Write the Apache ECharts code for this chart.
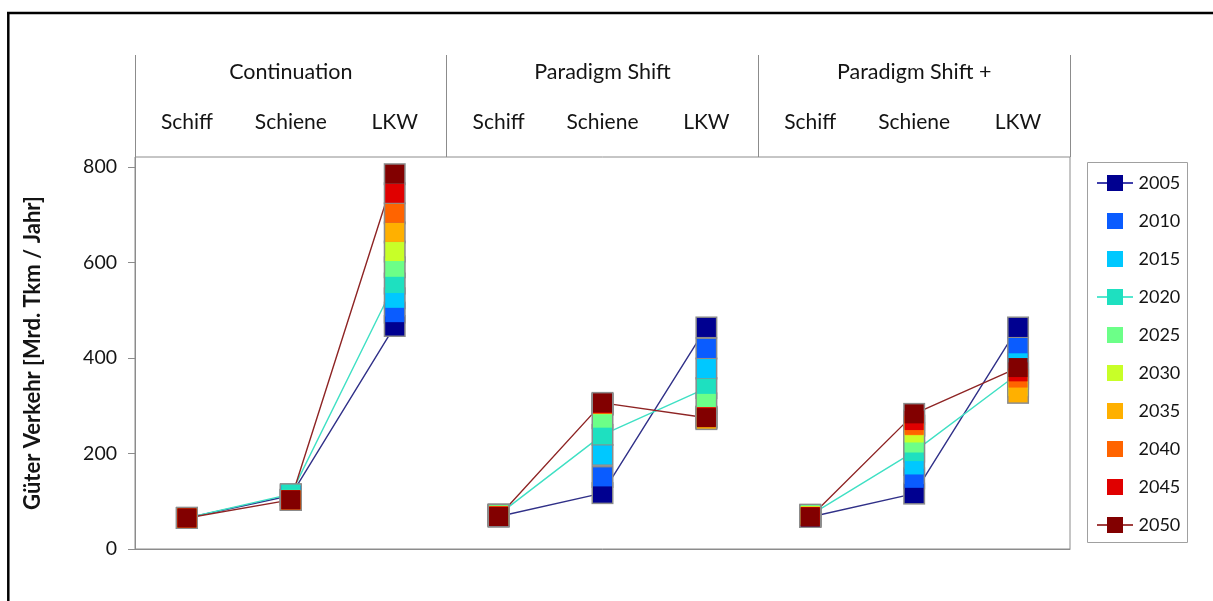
<!DOCTYPE html>
<html>
<head>
<meta charset="utf-8">
<script src="https://cdn.jsdelivr.net/npm/echarts@6/dist/echarts.min.js"></script>
<style>html,body{margin:0;padding:0;background:#fff;}#c{width:1213px;height:601px;}</style>
</head>
<body>
<div id="c"></div>
<script>
// ---- data ----
const groups = ['Continuation', 'Paradigm Shift', 'Paradigm Shift +'];
const categories = ['Schiff', 'Schiene', 'LKW', 'Schiff', 'Schiene', 'LKW', 'Schiff', 'Schiene', 'LKW'];
const years = ['2005', '2010', '2015', '2020', '2025', '2030', '2035', '2040', '2045', '2050'];
const yTicks = [0, 200, 400, 600, 800];
// values per year: [Cont Schiff, Cont Schiene, Cont LKW, PS Schiff, PS Schiene, PS LKW, PS+ Schiff, PS+ Schiene, PS+ LKW]
const v2005 = [65, 112, 467, 68, 117, 464, 67, 116, 464];
const v2010 = [65, 113, 495, 72, 151, 420, 68, 148, 422];
const v2015 = [65, 114, 525, 72, 197, 378, 69, 176, 390];
const v2020 = [65, 115, 556, 72, 239, 337, 71, 204, 367];
const v2025 = [65, 104, 590, 71, 274, 305, 72, 222, 355];
const v2030 = [65, 103, 623, 71, 302, 274, 70, 243, 340];
const v2035 = [65, 103, 663, 70, 303, 272, 69, 258, 327];
const v2040 = [65, 103, 703, 70, 304, 277, 68, 259, 358];
const v2045 = [65, 103, 745, 69, 304, 277, 68, 269, 371];
const v2050 = [65, 103, 785, 68, 306, 275, 67, 283, 380];
const lineYears = ['2005', '2020', '2050'];

// ---- styles ----
const values = [v2005, v2010, v2015, v2020, v2025, v2030, v2035, v2040, v2045, v2050];
const colors = ['#000090', '#0a5cff', '#00c8ff', '#1ee0c0', '#6cff88', '#c8ff28', '#ffb000', '#ff6400', '#e00000', '#820000'];
const lineColors = {'2005': '#303088', '2020': '#3fe0c4', '2050': '#8e2424'};
const FONT = 'Lato';
const GREY = '#8c8c8c';
const TXT = '#141414';

const series = [];
// connecting lines (only 2005, 2020, 2050), one piece per scenario group
years.forEach(function (y, k) {
  if (lineYears.indexOf(y) >= 0) {
    for (let g = 0; g < 3; g++) {
      series.push({
        type: 'line', name: y + ' line', z: 1, silent: true,
        showSymbol: false, symbol: 'none',
        lineStyle: {color: lineColors[y], width: 1.4},
        data: values[k].map(function (v, i) { return Math.floor(i / 3) === g ? v : '-'; })
      });
    }
  }
});
// coloured squares (legend representatives)
years.forEach(function (y, k) {
  series.push({
    type: 'scatter', name: y, z: 3, symbol: 'rect', symbolSize: 19,
    itemStyle: {color: colors[k], borderWidth: 0, opacity: 1},
    emphasis: {disabled: true}, silent: true,
    data: values[k]
  });
});
// grey outlines behind all squares
years.forEach(function (y, k) {
  series.push({
    type: 'scatter', name: y + ' outline', z: 2, symbol: 'rect', symbolSize: 22,
    itemStyle: {color: GREY, borderWidth: 0, opacity: 1},
    emphasis: {disabled: true}, silent: true,
    data: values[k]
  });
});

const sqIcon = 'path://M0,0H16V16H0Z';
const lnIcon = 'path://M0,7.3H10V0H26V7.3H36V8.7H26V16H10V8.7H0Z';

const chart = echarts.init(document.getElementById('c'), null, {renderer: 'canvas'});
chart.setOption({
  animation: false,
  backgroundColor: '#fff',
  textStyle: {fontFamily: FONT},
  grid: {left: 135, right: 143, top: 157, bottom: 52, show: true, borderColor: GREY, borderWidth: 1, outerBoundsMode: 'none', containLabel: false},
  xAxis: [
    {type: 'category', data: categories, position: 'bottom',
     axisLine: {show: true, lineStyle: {color: GREY}}, axisTick: {show: false}, axisLabel: {show: false}, splitLine: {show: false}},
    {type: 'category', data: categories, position: 'top',
     axisLine: {show: false}, axisTick: {show: false},
     axisLabel: {show: true, interval: 0, margin: 24, fontFamily: FONT, fontSize: 21, color: TXT}},
    {type: 'category', data: groups, position: 'top',
     axisLine: {show: false},
     axisTick: {show: true, interval: 0, length: 102, lineStyle: {color: GREY, width: 1}},
     axisLabel: {show: true, interval: 0, margin: 74, fontFamily: FONT, fontSize: 21.5, color: TXT}}
  ],
  yAxis: {
    type: 'value', min: 0, max: 821,
    name: 'Güter Verkehr [Mrd. Tkm / Jahr]', nameLocation: 'middle', nameGap: 91, nameRotate: 90,
    nameTextStyle: {fontFamily: FONT, fontWeight: 'bold', fontSize: 22, color: TXT},
    axisLine: {show: true, lineStyle: {color: GREY}},
    axisTick: {show: true, length: 7, customValues: yTicks, lineStyle: {color: GREY}},
    axisLabel: {show: true, margin: 18, customValues: yTicks, fontFamily: FONT, fontSize: 19.5, color: TXT},
    splitLine: {show: false}
  },
  legend: {
    orient: 'vertical', left: 1097, top: 173, padding: 0,
    itemWidth: 37, itemHeight: 16, itemGap: 18,
    selectedMode: false,
    itemStyle: {borderWidth: 0},
    textStyle: {fontFamily: FONT, fontSize: 18, color: TXT, lineHeight: 20},
    data: years.map(function (y) { return {name: y, icon: lineYears.indexOf(y) >= 0 ? lnIcon : sqIcon}; })
  },
  graphic: [
    {type: 'rect', shape: {x: 1087.5, y: 162.5, width: 100, height: 380}, style: {fill: 'none', stroke: '#a0a0a0', lineWidth: 1}, silent: true},
    {type: 'line', shape: {x1: 7, y1: 13, x2: 1213, y2: 13}, style: {stroke: '#000', lineWidth: 2.5}, silent: true},
    {type: 'line', shape: {x1: 8.3, y1: 12, x2: 8.3, y2: 601}, style: {stroke: '#000', lineWidth: 2.5}, silent: true}
  ],
  series: series
});
</script>
</body>
</html>
